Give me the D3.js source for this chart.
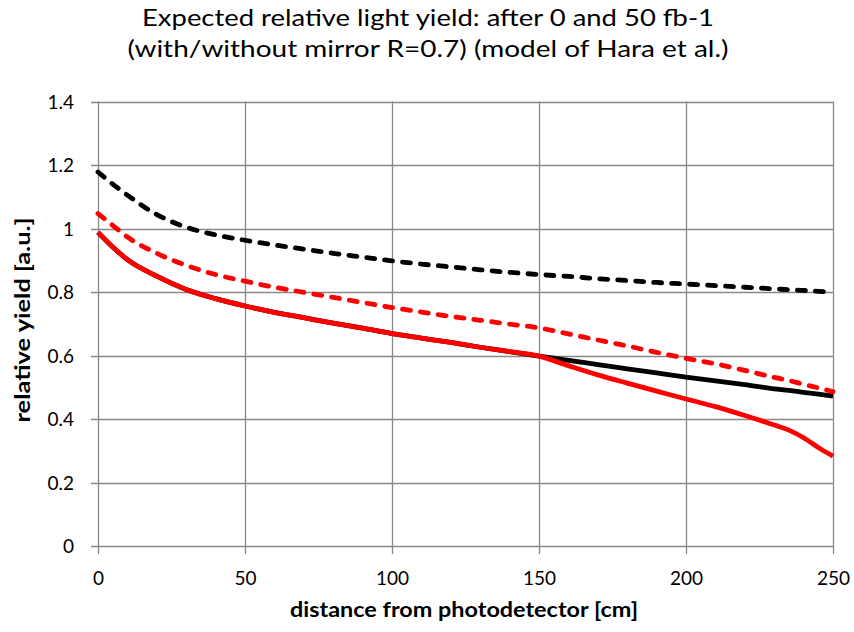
<!DOCTYPE html>
<html>
<head>
<meta charset="utf-8">
<script src="https://cdn.jsdelivr.net/npm/d3@7"></script>
<style>
  html, body { margin: 0; padding: 0; background: #fff; }
  svg { display: block; }
  text { font-family: Lato, "Open Sans", "Liberation Sans", sans-serif; fill: #000; }
</style>
</head>
<body>
<script>
// ---- data ----
const distances = [0, 5, 10, 20, 30, 40, 50, 60, 70, 80, 90, 100, 110, 120, 130, 140, 150,
                   160, 170, 180, 190, 200, 210, 220, 230, 235, 240, 245, 250];
// with mirror, 0 fb-1 (black dashed)
const mirror0 = [1.178, 1.140, 1.105, 1.044, 1.004, 0.980, 0.963, 0.948, 0.935, 0.922, 0.910, 0.898,
                 0.888, 0.879, 0.870, 0.862, 0.855, 0.849, 0.842, 0.836, 0.830, 0.825, 0.820, 0.815,
                 0.810, 0.807, 0.805, 0.802, 0.800];
// with mirror, 50 fb-1 (red dashed)
const mirror50 = [1.047, 1.010, 0.973, 0.922, 0.884, 0.855, 0.834, 0.815, 0.799, 0.783, 0.767, 0.751,
                  0.737, 0.723, 0.711, 0.699, 0.687, 0.668, 0.649, 0.630, 0.610, 0.591, 0.574, 0.553,
                  0.531, 0.521, 0.509, 0.498, 0.486];
// without mirror, 0 fb-1 (black solid)
const plain0 = [0.988, 0.942, 0.902, 0.850, 0.808, 0.779, 0.756, 0.736, 0.719, 0.702, 0.686, 0.669,
                0.655, 0.641, 0.626, 0.612, 0.598, 0.585, 0.571, 0.558, 0.545, 0.532, 0.520, 0.508,
                0.495, 0.490, 0.484, 0.478, 0.472];
// without mirror, 50 fb-1 (red solid)
const plain50 = [0.988, 0.942, 0.902, 0.850, 0.808, 0.779, 0.756, 0.736, 0.719, 0.702, 0.686, 0.669,
                 0.655, 0.641, 0.626, 0.612, 0.598, 0.568, 0.539, 0.513, 0.488, 0.463, 0.439, 0.411,
                 0.381, 0.365, 0.341, 0.310, 0.283];

const xTicks = [0, 50, 100, 150, 200, 250];
const yTicks = [0, 0.2, 0.4, 0.6, 0.8, 1, 1.2, 1.4];
const titleLines = ["Expected relative light yield: after 0 and 50 fb-1",
                    "(with/without mirror R=0.7) (model of Hara et al.)"];
const xTitle = "distance from photodetector [cm]";
const yTitle = "relative yield [a.u.]";

const series = [
  { values: plain0,  color: "#000000", dash: null },
  { values: mirror0, color: "#000000", dash: "8,10" },
  { values: mirror50, color: "#FF0000", dash: "8,10" },
  { values: plain50, color: "#FF0000", dash: null }
];

// ---- layout ----
const W = 854, H = 632;
const mLeft = 98, mRight = 833, mTop = 101.5, mBottom = 546;
const gridColor = "#898989";

const svg = d3.select("body").append("svg").attr("width", W).attr("height", H);

const x = d3.scaleLinear().domain([0, 250]).range([mLeft, mRight]);
const y = d3.scaleLinear().domain([0, 1.4]).range([mBottom, mTop]);

// gridlines
svg.append("g").selectAll("line").data(yTicks).join("line")
  .attr("x1", mLeft - 7).attr("x2", mRight)
  .attr("y1", d => Math.round(y(d)) + 0.5).attr("y2", d => Math.round(y(d)) + 0.5)
  .attr("stroke", gridColor).attr("stroke-width", 1.3);
svg.append("g").selectAll("line").data(xTicks).join("line")
  .attr("x1", d => Math.round(x(d)) + 0.5).attr("x2", d => Math.round(x(d)) + 0.5)
  .attr("y1", mTop).attr("y2", mBottom + 8)
  .attr("stroke", gridColor).attr("stroke-width", 1.3);

// axes labels via d3 axes (ticks hidden; gridlines drawn above)
const xAxis = svg.append("g").attr("transform", `translate(0,${mBottom})`)
  .call(d3.axisBottom(x).tickValues(xTicks).tickSize(0).tickPadding(0).tickFormat(d3.format("d")));
xAxis.select(".domain").remove();
xAxis.selectAll("text").attr("font-size", 19).attr("dy", null).attr("y", 39)
  .style("font-family", "Lato, 'Open Sans', sans-serif");

const yAxis = svg.append("g").attr("transform", `translate(${mLeft},0)`)
  .call(d3.axisLeft(y).tickValues(yTicks).tickSize(0).tickPadding(0).tickFormat(d => String(+d.toFixed(1))));
yAxis.select(".domain").remove();
yAxis.selectAll("text").attr("font-size", 19).attr("x", -24).attr("dy", "0.35em")
  .style("font-family", "Lato, 'Open Sans', sans-serif");

// lines
const line = d3.line()
  .x((d, i) => x(distances[i]))
  .y(d => y(d))
  .curve(d3.curveMonotoneX);

svg.append("g").selectAll("path").data(series).join("path")
  .attr("d", s => line(s.values))
  .attr("fill", "none")
  .attr("stroke", s => s.color)
  .attr("stroke-width", 4.8)
  .attr("stroke-linecap", s => s.dash ? "round" : "butt")
  .attr("stroke-linejoin", "round")
  .attr("stroke-dasharray", s => s.dash);

// titles (fitted to the reference widths)
svg.append("text").attr("x", 428).attr("y", 26).attr("text-anchor", "middle")
  .attr("font-size", 24).attr("textLength", 572).attr("lengthAdjust", "spacingAndGlyphs")
  .text(titleLines[0]);
svg.append("text").attr("x", 428).attr("y", 57).attr("text-anchor", "middle")
  .attr("font-size", 24).attr("textLength", 601).attr("lengthAdjust", "spacingAndGlyphs")
  .text(titleLines[1]);

svg.append("text").attr("x", 464).attr("y", 617).attr("text-anchor", "middle")
  .attr("font-size", 20).attr("font-weight", "bold")
  .attr("textLength", 348).attr("lengthAdjust", "spacingAndGlyphs").text(xTitle);

svg.append("text").attr("transform", "translate(30,320) rotate(-90)")
  .attr("text-anchor", "middle").attr("font-size", 20).attr("font-weight", "bold")
  .attr("textLength", 205).attr("lengthAdjust", "spacingAndGlyphs").text(yTitle);
</script>
</body>
</html>
